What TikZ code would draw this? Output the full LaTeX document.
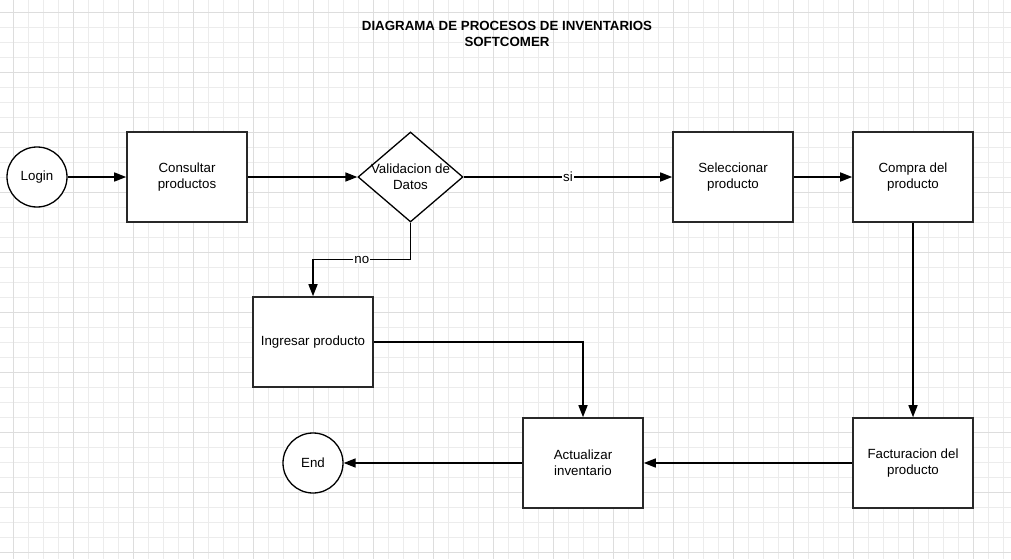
\documentclass[tikz,border=0pt]{standalone}
\usepackage{fontspec}
\setmainfont{Liberation Sans}
\usetikzlibrary{positioning,shapes.geometric,arrows.meta}
\definecolor{gridminor}{RGB}{236,236,236}
\definecolor{gridmajor}{RGB}{221,221,221}
\definecolor{boxline}{RGB}{40,40,40}

\begin{document}
\begin{tikzpicture}[x=1pt,y=-1pt,
  font=\fontsize{13.3}{16}\selectfont,
  procnode/.style={draw=boxline,fill=white,line width=1.6pt,minimum width=120pt,minimum height=90pt,inner sep=0pt,align=center},
  termnode/.style={circle,draw,fill=white,line width=1.3pt,minimum size=60pt,inner sep=0pt},
  decnode/.style={diamond,draw,fill=white,line width=1.3pt,minimum width=105pt,minimum height=90pt,inner sep=0pt},
  flow/.style={-{Triangle[length=12pt,width=9pt]},line width=1.5pt},
  tag/.style={fill=white,inner sep=1pt}
]
% the sheet and its grid
\fill[white] (0,0) rectangle (1011,559);
\useasboundingbox (0,0) rectangle (1011,559);
\foreach \gx in {13,28,...,1003} \draw[gridminor,line width=0.8pt] (\gx,0) -- (\gx,559);
\foreach \gy in {12,27,...,552} \draw[gridminor,line width=0.8pt] (0,\gy) -- (1011,\gy);
\foreach \gx in {13,73,...,973} \draw[gridmajor,line width=0.8pt] (\gx,0) -- (\gx,559);
\foreach \gy in {12,72,...,552} \draw[gridmajor,line width=0.8pt] (0,\gy) -- (1011,\gy);

% the title
\node[font=\fontsize{13.3}{16}\selectfont\bfseries,align=center] (title) at (507,34) {DIAGRAMA DE PROCESOS DE INVENTARIOS\\SOFTCOMER};

% the top row
\node[termnode] (login) at (37,177) {Login};
\node[procnode] (consultar) at (187,177) {Consultar\\productos};
\node[decnode,label={[align=center]center:Validacion de\\Datos}] (valid) at (410.5,177) {};
\node[procnode] (selecc) at (733,177) {Seleccionar\\producto};
\node[procnode] (compra) at (913,177) {Compra del\\producto};

% the bottom row
\node[procnode] (factura) at (913,463) {Facturacion del\\producto};
\node[procnode] (actual) at (583,463) {Actualizar\\inventario};
\node[termnode] (fin) at (313,463) {End};
\node[procnode] (ingresar) at (313,342) {Ingresar producto};

% the edges
\draw[flow] (login) -- (consultar);
\draw[flow] (consultar) -- (valid);
\draw[flow] (valid) -- node[tag]{si} (selecc);
\draw[flow] (selecc) -- (compra);
\draw[flow] (compra) -- (factura);
\draw[flow] (factura) -- (actual);
\draw[flow] (actual) -- (fin);
\draw[flow] (valid.south) -- ++(0,37) -| node[tag,pos=0.25]{no} (ingresar.north);
\draw[flow] (ingresar.east) -| (actual.north);
\end{tikzpicture}
\end{document}
